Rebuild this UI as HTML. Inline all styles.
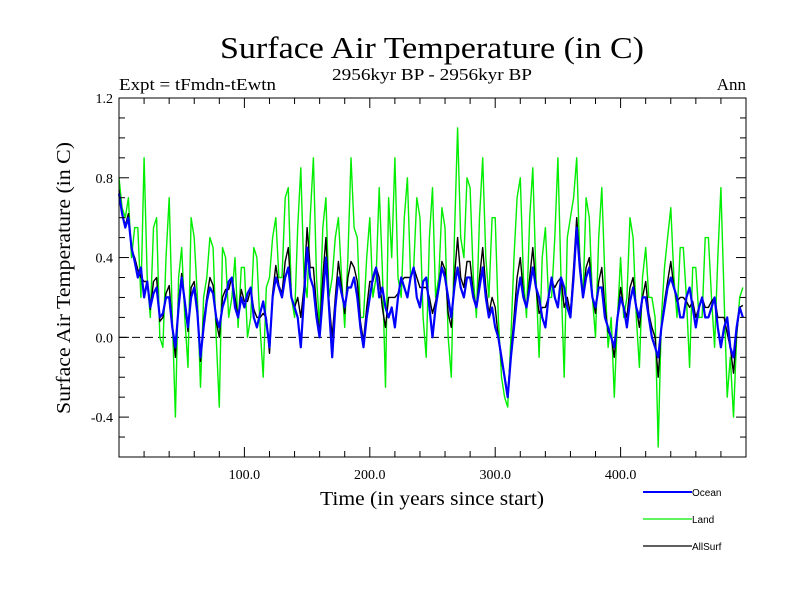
<!DOCTYPE html>
<html><head><meta charset="utf-8"><style>body{margin:0;background:#fff}svg{display:block}</style></head><body>
<svg id="chart" width="800" height="600" xmlns="http://www.w3.org/2000/svg" font-family="Liberation Serif, serif">
<rect width="800" height="600" fill="#fff"/>
<text x="432" y="58" font-size="31" text-anchor="middle" textLength="424" lengthAdjust="spacingAndGlyphs">Surface Air Temperature (in C)</text>
<text x="119" y="90" font-size="17" textLength="157" lengthAdjust="spacingAndGlyphs">Expt = tFmdn-tEwtn</text>
<text x="432" y="80" font-size="17" text-anchor="middle" textLength="200" lengthAdjust="spacingAndGlyphs">2956kyr BP - 2956kyr BP</text>
<text x="746" y="90" font-size="17" text-anchor="end">Ann</text>
<g id="plot"></g>
<text x="432" y="505" font-size="20" text-anchor="middle" textLength="224" lengthAdjust="spacingAndGlyphs">Time (in years since start)</text>
<text transform="translate(70,278) rotate(-90)" font-size="20" text-anchor="middle" textLength="272" lengthAdjust="spacingAndGlyphs">Surface Air Temperature (in C)</text>
<g font-family="Liberation Sans, sans-serif" font-size="10">
<line x1="643" y1="492" x2="692" y2="492" stroke="#0000ff" stroke-width="2"/><text x="692" y="496">Ocean</text>
<line x1="643" y1="519" x2="692" y2="519" stroke="#00ee00" stroke-width="1.2"/><text x="692" y="523">Land</text>
<line x1="643" y1="546" x2="692" y2="546" stroke="#000" stroke-width="1.2"/><text x="692" y="550">AllSurf</text>
</g>
</svg>
<script>
const years=[];for(let i=0;i<200;i++)years.push(i*2.5);
const ocean=[0.72,0.62,0.55,0.6,0.45,0.38,0.3,0.35,0.2,0.28,
0.15,0.22,0.25,0.1,0.12,0.2,0.2,0.05,-0.05,0.15,
0.3,0.18,0.05,0.2,0.25,0.12,-0.1,0.05,0.18,0.25,
0.22,0.1,0.05,0.15,0.2,0.28,0.3,0.15,0.1,0.2,
0.15,0.22,0.25,0.1,0.05,0.12,0.18,0.08,-0.05,0.2,
0.3,0.25,0.2,0.3,0.35,0.2,0.15,0.1,-0.05,0.2,
0.45,0.3,0.25,0.1,0.0,0.2,0.4,0.15,-0.1,0.15,
0.3,0.22,0.15,0.25,0.25,0.3,0.2,0.05,-0.05,0.1,
0.2,0.3,0.35,0.2,0.25,0.15,0.1,0.15,0.05,0.2,
0.3,0.25,0.2,0.3,0.35,0.2,0.15,0.28,0.3,0.15,
0.0,0.15,0.25,0.35,0.3,0.2,0.1,0.25,0.35,0.25,
0.2,0.3,0.3,0.2,0.15,0.25,0.35,0.2,0.1,0.15,
0.05,0.0,-0.1,-0.2,-0.3,-0.1,0.05,0.2,0.3,0.2,
0.15,0.25,0.35,0.25,0.2,0.1,0.05,0.2,0.3,0.2,
0.15,0.3,0.25,0.15,0.1,0.3,0.55,0.35,0.2,0.3,
0.35,0.2,0.15,0.25,0.25,0.1,0.05,0.0,-0.05,0.1,
0.2,0.15,0.05,0.18,0.25,0.15,0.1,0.2,0.2,0.1,
0.0,-0.05,-0.1,0.05,0.15,0.25,0.3,0.25,0.2,0.1,
0.1,0.2,0.25,0.15,0.05,0.15,0.2,0.1,0.1,0.15,
0.2,0.05,-0.05,0.05,0.1,-0.05,-0.1,0.05,0.15,0.1];
const land=[0.8,0.65,0.6,0.7,0.4,0.55,0.55,0.2,0.9,0.3,
0.1,0.55,0.6,0.0,-0.05,0.4,0.7,0.1,-0.4,0.3,
0.45,0.1,-0.15,0.6,0.5,0.2,-0.25,0.2,0.3,0.5,
0.45,0.0,-0.35,0.45,0.4,0.1,0.2,0.4,0.05,0.35,
0.35,0.0,0.1,0.45,0.4,0.05,-0.2,0.25,0.3,0.5,
0.6,0.3,0.3,0.7,0.75,0.2,0.1,0.55,0.85,0.3,
0.2,0.6,0.9,0.3,0.05,0.55,0.7,0.2,0.3,0.5,
0.6,0.3,0.05,0.4,0.9,0.55,0.5,0.1,0.1,0.4,
0.6,0.2,0.3,0.75,0.35,-0.25,0.7,0.4,0.9,0.3,
0.2,0.6,0.8,0.3,0.35,0.7,0.6,0.1,-0.1,0.5,
0.75,0.2,0.3,0.65,0.55,0.0,-0.2,0.5,1.05,0.5,
0.4,0.8,0.75,0.3,0.1,0.6,0.9,0.4,0.2,0.6,
0.6,0.1,-0.2,-0.3,-0.35,0.0,0.4,0.7,0.8,0.3,
0.1,0.6,0.85,0.3,-0.1,0.4,0.55,0.2,0.2,0.5,
0.9,0.3,-0.2,0.5,0.6,0.7,0.9,0.4,0.2,0.7,
0.6,0.2,0.0,0.5,0.75,0.3,-0.05,0.1,-0.3,0.1,
0.4,0.1,0.2,0.6,0.5,0.1,-0.15,0.3,0.45,0.2,
0.2,0.1,-0.55,0.1,0.35,0.5,0.65,0.3,0.1,0.45,
0.45,0.2,-0.15,0.35,0.35,0.1,0.1,0.5,0.5,0.2,
-0.05,0.4,0.75,0.2,-0.3,-0.1,-0.4,0.0,0.2,0.25];
const allsurf=[0.74,0.62,0.56,0.62,0.44,0.4,0.34,0.3,0.28,0.28,
0.14,0.28,0.3,0.08,0.1,0.22,0.26,0.06,-0.1,0.18,
0.32,0.16,0.03,0.25,0.28,0.14,-0.12,0.08,0.2,0.3,
0.26,0.08,0.0,0.2,0.24,0.24,0.3,0.2,0.1,0.24,
0.18,0.18,0.24,0.14,0.1,0.1,0.12,0.1,-0.08,0.22,
0.36,0.26,0.22,0.38,0.45,0.2,0.15,0.2,0.1,0.25,
0.55,0.35,0.35,0.15,0.02,0.3,0.5,0.18,0.0,0.2,
0.38,0.25,0.12,0.3,0.38,0.35,0.28,0.08,-0.02,0.15,
0.28,0.28,0.35,0.3,0.15,0.05,0.2,0.2,0.2,0.22,
0.28,0.3,0.3,0.3,0.35,0.3,0.25,0.25,0.25,0.2,
0.12,0.18,0.26,0.38,0.34,0.12,0.05,0.3,0.5,0.3,
0.25,0.38,0.38,0.22,0.15,0.3,0.45,0.25,0.12,0.2,
0.15,0.0,-0.12,-0.2,-0.28,-0.08,0.1,0.3,0.4,0.22,
0.15,0.3,0.45,0.25,0.12,0.15,0.15,0.2,0.28,0.25,
0.28,0.3,0.15,0.2,0.12,0.35,0.6,0.38,0.2,0.35,
0.4,0.2,0.12,0.28,0.35,0.15,0.03,0.0,-0.1,0.1,
0.25,0.15,0.1,0.25,0.3,0.15,0.05,0.2,0.28,0.12,
0.05,0.0,-0.2,0.05,0.18,0.28,0.38,0.25,0.18,0.2,
0.2,0.18,0.15,0.18,0.1,0.15,0.2,0.15,0.15,0.18,
0.2,0.1,0.1,0.1,0.02,-0.05,-0.18,0.02,0.15,0.16];
const yTickLabels=["-0.4","0.0","0.4","0.8","1.2"];
const yTicks=[-0.4,0,0.4,0.8,1.2];
const xTicks=[100,200,300,400];
const xTickLabels=["100.0","200.0","300.0","400.0"];
const L=119,R=746,T=98,B=457,x0=0,x1=500,y0=-0.6,y1=1.2;
const X=v=>L+(v-x0)/(x1-x0)*(R-L);
const Y=v=>B-(v-y0)/(y1-y0)*(B-T);
const NS="http://www.w3.org/2000/svg";
const g=document.getElementById('plot');
function mk(t,a){const e=document.createElementNS(NS,t);for(const k in a)e.setAttribute(k,a[k]);g.appendChild(e);return e;}
let e=mk('line',{x1:L,x2:R,y1:Y(0),y2:Y(0),stroke:'#000','stroke-dasharray':'8,5','stroke-width':1});


function series(vals,color,w,name){const p=vals.map((v,i)=>X(years[i]).toFixed(1)+','+Y(v).toFixed(1)).join(' ');
const el=mk('polyline',{points:p,fill:'none',stroke:color,'stroke-width':w,'stroke-linejoin':'round'});

}
series(land,'#00ee00',1.4,'land-series');
series(allsurf,'#000',1.4,'allsurf-series');
series(ocean,'#0000ff',2.2,'ocean-series');
e=mk('rect',{x:L,y:T,width:R-L,height:B-T,fill:'none',stroke:'#000','stroke-width':1});


for(let v=20;v<500;v+=20){const big=v%100===0,len=big?10:6;
mk('line',{x1:X(v),x2:X(v),y1:B,y2:B-len,stroke:'#000'});mk('line',{x1:X(v),x2:X(v),y1:T,y2:T+len,stroke:'#000'});}
for(let k=-5;k<12;k++){const v=k/10,big=k%4===0,len=big?10:6;
mk('line',{x1:L,x2:L+len,y1:Y(v),y2:Y(v),stroke:'#000'});mk('line',{x1:R,x2:R-len,y1:Y(v),y2:Y(v),stroke:'#000'});}
yTicks.forEach((v,i)=>{const t=mk('text',{x:L-6,y:Y(v)+5,'font-size':14,'text-anchor':'end'});t.textContent=yTickLabels[i];

});
xTicks.forEach((v,i)=>{const t=mk('text',{x:X(v),y:B+22,'font-size':14,'text-anchor':'middle'});t.textContent=xTickLabels[i];

});
</script>
</body></html>
